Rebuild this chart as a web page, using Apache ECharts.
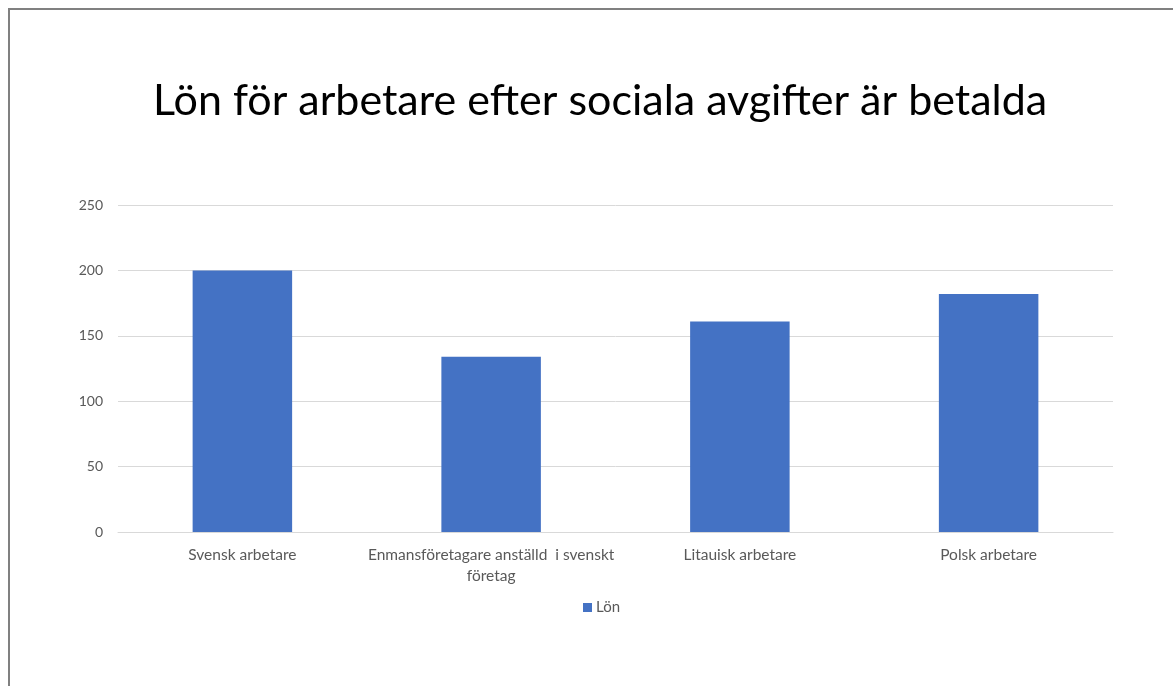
<!DOCTYPE html>
<html>
<head>
<meta charset="utf-8">
<script src="https://cdn.jsdelivr.net/npm/echarts@6/dist/echarts.min.js"></script>
<style>
html,body{margin:0;padding:0;background:#fff;}
#chart{width:1173px;height:686px;}
</style>
</head>
<body>
<div id="chart"></div>
<script>
const titleText = 'Lön för arbetare efter sociala avgifter är betalda';
const categories = ['Svensk arbetare', 'Enmansföretagare anställd  i svenskt\nföretag', 'Litauisk arbetare', 'Polsk arbetare'];
const seriesName = 'Lön';
const values = [200, 134, 161, 182];

const chart = echarts.init(document.getElementById('chart'));
chart.setOption({
  animation: false,
  graphic: [{
    type: 'rect',
    shape: {x: 9, y: 9, width: 1300, height: 800},
    style: {fill: 'none', stroke: '#808080', lineWidth: 2},
    silent: true
  }],
  title: {
    text: titleText,
    left: 148,
    top: 75,
    textStyle: {fontFamily: 'Lato', fontSize: 43, fontWeight: 'normal', color: '#000'}
  },
  legend: {
    data: [seriesName],
    left: 578,
    top: 595,
    icon: 'rect',
    itemWidth: 9,
    itemHeight: 9,
    itemGap: 4,
    textStyle: {fontFamily: 'Lato', fontSize: 15, color: '#595959', padding: [0,0,0,-1]}
  },
  grid: {left: 118, right: 60, top: 205, bottom: 154, containLabel: false},
  xAxis: {
    type: 'category',
    data: categories,
    axisTick: {show: false},
    axisLine: {lineStyle: {color: '#d9d9d9', width: 1}},
    axisLabel: {fontFamily: 'Lato', fontSize: 15.5, color: '#595959', margin: 12, lineHeight: 21, interval: 0}
  },
  yAxis: {
    type: 'value',
    min: 0,
    max: 250,
    interval: 50,
    axisLine: {show: false},
    axisTick: {show: false},
    splitLine: {lineStyle: {color: '#d9d9d9', width: 1}},
    axisLabel: {fontFamily: 'Lato', fontSize: 14, color: '#595959', margin: 15}
  },
  series: [{
    name: seriesName,
    type: 'bar',
    data: values,
    barWidth: '40%',
    itemStyle: {color: '#4472C4'}
  }]
});
</script>
</body>
</html>
